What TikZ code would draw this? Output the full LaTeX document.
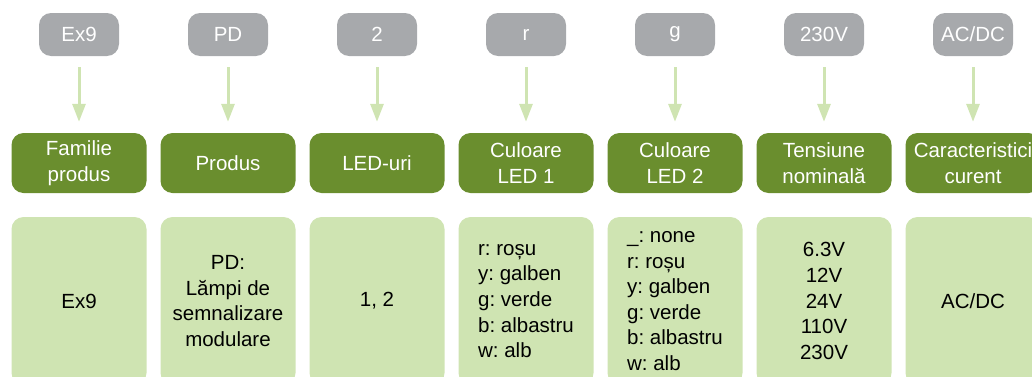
\documentclass[tikz,border=0pt]{standalone}
\usepackage{fontspec}
\setmainfont{Liberation Sans}
\usetikzlibrary{arrows.meta}
\frenchspacing

\definecolor{codegrey}{RGB}{167,169,172}
\definecolor{headgreen}{RGB}{106,142,46}
\definecolor{descgreen}{RGB}{207,228,178}

\begin{document}
\begin{tikzpicture}[x=1pt, y=1pt,
    txt/.style={font=\fontsize{20.5}{25.6}\selectfont},
    code/.style={txt, fill=codegrey, text=white, rounded corners=12pt, minimum width=80pt, minimum height=43pt, inner sep=0pt},
    head/.style={txt, fill=headgreen, text=white, rounded corners=12pt, minimum width=135pt, minimum height=60pt, inner sep=0pt, align=center},
    desc/.style={txt, fill=descgreen, text=black, rounded corners=12pt, minimum width=135pt, minimum height=168pt, inner sep=0pt},
    arr/.style={draw=descgreen, line width=3pt, shorten <=11pt, shorten >=11pt, -{Triangle[width=13pt, length=18pt]}}]
    \useasboundingbox (0,0) rectangle (1032,376);
    \clip (0,0) rectangle (1032,376);
    \node[code] (c_fam) at (79,341.5) {Ex9};
    \node[code] (c_prod) at (228,341.5) {PD};
    \node[code] (c_led) at (377,341.5) {2};
    \node[code] (c_col1) at (526,341.5) {r};
    \node[code] (c_col2) at (675,341.5) {g};
    \node[code] (c_volt) at (824,341.5) {230V};
    \node[code] (c_curr) at (973,341.5) {AC/DC};
    \node[head] (h_fam) at (79,213) {Familie\\produs};
    \node[head] (h_prod) at (228,213) {Produs};
    \node[head] (h_led) at (377,213) {LED-uri};
    \node[head] (h_col1) at (526,213) {Culoare\\LED 1};
    \node[head] (h_col2) at (675,213) {Culoare\\LED 2};
    \node[head] (h_volt) at (824,213) {Tensiune\\nominală};
    \node[head] (h_curr) at (973,213) {Caracteristici\\curent};
    \node[desc] (d_fam) at (79,75) {Ex9};
    \node[desc, align=center] (d_prod) at (228,75) {PD:\\Lămpi de\\semnalizare\\modulare};
    \node[desc] (d_led) at (377,75) {1, 2};
    \node[desc, align=left] (d_col1) at (526,75) {r: roșu\\y: galben\\g: verde\\b: albastru\\w: alb};
    \node[desc, align=left] (d_col2) at (675,75) {\_: none\\r: roșu\\y: galben\\g: verde\\b: albastru\\w: alb};
    \node[desc, align=center] (d_volt) at (824,75) {6.3V\\12V\\24V\\110V\\230V};
    \node[desc] (d_curr) at (973,75) {AC/DC};
    \draw[arr] (c_fam) -- (h_fam);
    \draw[arr] (c_prod) -- (h_prod);
    \draw[arr] (c_led) -- (h_led);
    \draw[arr] (c_col1) -- (h_col1);
    \draw[arr] (c_col2) -- (h_col2);
    \draw[arr] (c_volt) -- (h_volt);
    \draw[arr] (c_curr) -- (h_curr);
\end{tikzpicture}
\end{document}
